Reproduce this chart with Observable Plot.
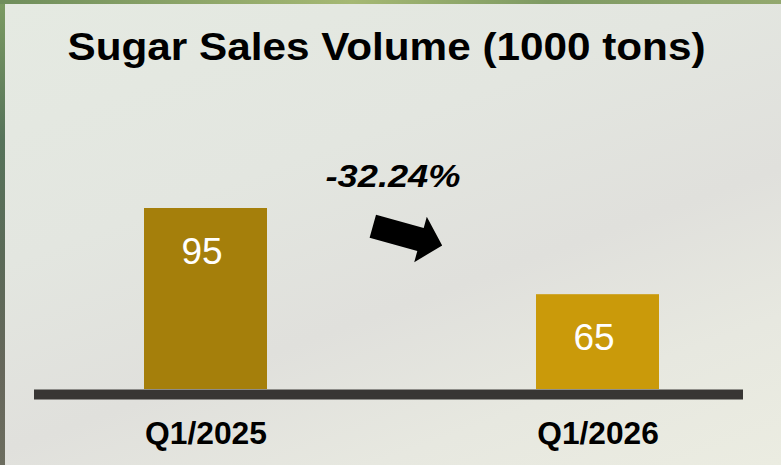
<!DOCTYPE html>
<html><head><meta charset="utf-8">
<script src="https://cdn.jsdelivr.net/npm/d3@7"></script>
<script src="https://cdn.jsdelivr.net/npm/@observablehq/plot@0.6"></script>
<style>
html,body{margin:0;padding:0;}
#page{position:relative;width:781px;height:465px;overflow:hidden;background:linear-gradient(to bottom,#7c9c62 0%,#56735a 30%,#5b6a58 55%,#66675b 80%,#6c6d5f 100%);}
#top{position:absolute;left:0;top:0;width:781px;height:4px;background:linear-gradient(to right,#6f8e5c,#a5b873 45%,#7e9a63 70%,#93a86e 100%);}
#inner{position:absolute;left:5px;top:4px;right:0;bottom:0;background:linear-gradient(160deg,#e5eae2 0%,#e3e6e0 35%,#e0e0dc 60%,#e7e8e0 80%,#ebece1 100%);}
#chart{position:absolute;left:0;top:0;}
</style></head><body>
<div id="page"><div id="top"></div><div id="inner"></div><div id="chart"></div></div>
<script>
const title = "Sugar Sales Volume (1000 tons)";
const quarters = ["Q1/2025", "Q1/2026"];
const volumes = [95, 65];
const barColors = ["#a57f0b", "#ca9a0a"];
const changeLabel = ["-32.24%"];
const yBase = 32;

const data = quarters.map((q, i) => ({quarter: q, value: volumes[i]}));

const arrowSymbol = {
  draw(ctx, size) {
    const L = 36, hx = 13.5, sw = 12, hw = 23.5, a = 15.5 * Math.PI / 180;
    const pts = [[-L, -sw], [hx, -sw], [hx, -hw], [L, 0], [hx, hw], [hx, sw], [-L, sw]];
    const c = Math.cos(a), s = Math.sin(a);
    pts.forEach(([x, y], i) => {
      const X = x * c - y * s, Y = x * s + y * c;
      if (i) ctx.lineTo(X, Y); else ctx.moveTo(X, Y);
    });
    ctx.closePath();
  }
};

const chart = Plot.plot({
  width: 781, height: 465,
  marginTop: 208, marginBottom: 76, marginLeft: 34, marginRight: 38,
  style: {background: "transparent", fontFamily: "'Liberation Sans', Arial, sans-serif", color: "#000", overflow: "visible"},
  x: {domain: quarters, paddingInner: 0.686, paddingOuter: 0.2465, align: 0.565, label: null},
  y: {domain: [yBase, d3.max(volumes)], axis: null},
  color: {domain: quarters, range: barColors},
  marks: [
    Plot.barY(data, {x: "quarter", y1: yBase, y2: "value", fill: "quarter"}),
    Plot.ruleY([yBase], {stroke: "#383634", strokeWidth: 10, dy: 5}),
    Plot.text(data, {x: "quarter", y: "value", text: d => String(d.value), dx: -4, dy: 55, lineAnchor: "bottom", fill: "white", fontSize: 37}),
    Plot.axisX({tickSize: 0, tickPadding: 32, fontSize: 31, fontWeight: "bold", label: null}),
    Plot.text([title], {frameAnchor: "top", dx: -2.5, dy: -148.5, lineAnchor: "bottom", fontSize: 39, fontWeight: "bold", fill: "black"}),
    Plot.text(changeLabel, {frameAnchor: "top", dx: 4, dy: -22, lineAnchor: "bottom", fontSize: 31, fontWeight: "bold", fontStyle: "italic", fill: "black"}),
    Plot.dot(changeLabel, {frameAnchor: "top", dx: 18.5, dy: 27.4, symbol: arrowSymbol, fill: "black", stroke: "none", r: 10})
  ]
});

const fit = {[title]: 638, "-32.24%": 135, "Q1/2025": 122, "Q1/2026": 121.5};
d3.select(chart).selectAll("text").each(function () {
  const t = this.textContent;
  if (fit[t]) {
    this.setAttribute("textLength", fit[t]);
    this.setAttribute("lengthAdjust", "spacingAndGlyphs");
  }
});
document.getElementById("chart").appendChild(chart);
</script>
</body></html>
